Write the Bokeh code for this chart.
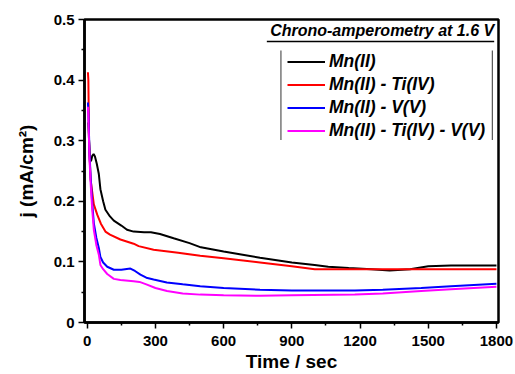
from bokeh.plotting import figure
from bokeh.models import Legend, LegendItem, Label, Range1d, FixedTicker
from bokeh.embed import file_html
from bokeh.resources import INLINE

# ---- data ----
t_mn = [5, 7, 12, 18, 22, 28, 34, 42, 51, 58, 70, 80, 100, 117, 150, 175, 204, 250, 280,
        320, 380, 450, 500, 600, 760, 900, 1000, 1060, 1150, 1250, 1330, 1420, 1500, 1600, 1800]
j_mn = [0.330, 0.310, 0.265, 0.268, 0.275, 0.278, 0.274, 0.262, 0.245, 0.220, 0.200, 0.186,
        0.175, 0.168, 0.160, 0.153, 0.150, 0.149, 0.149, 0.146, 0.139, 0.131, 0.124, 0.117,
        0.107, 0.099, 0.095, 0.092, 0.090, 0.088, 0.086, 0.088, 0.093, 0.094, 0.094]

t_mnti = [3, 5, 8, 12, 15, 22, 29, 44, 60, 80, 100, 146, 204, 226, 292, 400, 497, 600, 760,
          900, 1001, 1100, 1323, 1500, 1800]
j_mnti = [0.413, 0.400, 0.300, 0.260, 0.236, 0.215, 0.195, 0.178, 0.163, 0.150, 0.145, 0.137,
          0.130, 0.126, 0.120, 0.115, 0.110, 0.106, 0.099, 0.093, 0.088, 0.088, 0.088, 0.088, 0.088]

t_mnv = [3, 5, 10, 15, 22, 29, 40, 51, 58, 70, 88, 117, 150, 190, 210, 234, 260, 292, 350, 420,
         497, 600, 760, 900, 1177, 1300, 1469, 1600, 1800]
j_mnv = [0.363, 0.350, 0.280, 0.240, 0.197, 0.164, 0.140, 0.123, 0.108, 0.099, 0.092, 0.087,
         0.087, 0.089, 0.085, 0.079, 0.074, 0.071, 0.066, 0.063, 0.060, 0.057, 0.054, 0.053,
         0.053, 0.054, 0.057, 0.060, 0.064]

t_mntiv = [3, 5, 10, 15, 22, 29, 40, 51, 58, 70, 88, 117, 146, 204, 230, 260, 300, 351, 420,
           497, 600, 760, 900, 1177, 1300, 1469, 1600, 1800]
j_mntiv = [0.356, 0.340, 0.270, 0.230, 0.186, 0.153, 0.128, 0.112, 0.095, 0.088, 0.080, 0.072,
           0.070, 0.068, 0.067, 0.063, 0.057, 0.052, 0.048, 0.046, 0.045, 0.044, 0.045, 0.046,
           0.048, 0.052, 0.055, 0.059]

series_names = ["Mn(II)", "Mn(II) - Ti(IV)", "Mn(II) - V(V)", "Mn(II) - Ti(IV) - V(V)"]
series_colors = ["#000000", "#ff0000", "#0000ff", "#ff00ff"]

x_ticks = [0, 300, 600, 900, 1200, 1500, 1800]
y_ticks = [0.0, 0.1, 0.2, 0.3, 0.4, 0.5]

title_text = "Chrono-amperometry at 1.6 V"

FONT = "Liberation Sans"

p = figure(width=515, height=374, output_backend="svg", toolbar_location=None,
           x_range=Range1d(-12, 1809), y_range=Range1d(0, 0.5),
           min_border_left=84, min_border_right=17, min_border_top=19, min_border_bottom=51)
p.background_fill_color = "white"
p.border_fill_color = "white"
p.grid.visible = False
p.outline_line_color = "black"
p.outline_line_width = 2.5

renderers = []
for xs, ys, c in zip([t_mn, t_mnti, t_mnv, t_mntiv], [j_mn, j_mnti, j_mnv, j_mntiv], series_colors):
    r = p.line(xs, ys, line_color=c, line_width=2)
    renderers.append(r)

for ax in (p.xaxis[0], p.yaxis[0]):
    ax.axis_line_width = 2.5
    ax.axis_line_color = "black"
    ax.major_tick_line_width = 1.5
    ax.minor_tick_line_width = 1.5
    ax.major_tick_out = 6
    ax.major_tick_in = 0
    ax.minor_tick_out = 3
    ax.minor_tick_in = 0
    ax.major_label_text_font = FONT
    ax.major_label_text_font_style = "bold"
    ax.major_label_text_font_size = "15px"
    ax.major_label_text_color = "black"
    ax.axis_label_text_font = FONT
    ax.axis_label_text_font_style = "bold"
    ax.axis_label_text_font_size = "19px"
    ax.axis_label_text_color = "black"

p.xaxis.ticker = FixedTicker(ticks=x_ticks, minor_ticks=[150, 450, 750, 1050, 1350, 1650])
p.yaxis.ticker = FixedTicker(ticks=y_ticks, minor_ticks=[0.05, 0.15, 0.25, 0.35, 0.45])
p.xaxis.axis_label = "Time / sec"
p.yaxis.axis_label = "j (mA/cm²)"
p.xaxis.axis_label_standoff = 2
p.yaxis.axis_label_standoff = 14
p.xaxis.major_label_standoff = 7
p.yaxis.major_label_standoff = 4

# title over the legend, underlined
p.add_layout(Label(x=1790, y=0.467, text=title_text, text_align="right",
                   text_font=FONT, text_font_style="bold italic", text_font_size="16px",
                   text_color="black"))
p.segment(x0=[790], y0=[0.4635], x1=[1790], y1=[0.4635], line_color="black", line_width=1.5)
# legend side rules
p.segment(x0=[852, 1782], y0=[0.449, 0.449], x1=[852, 1782], y1=[0.301, 0.301],
          line_color="#555555", line_width=1.2)

legend = Legend(items=[LegendItem(label=n, renderers=[r]) for n, r in zip(series_names, renderers)],
                location=(200, 178), orientation="vertical")
legend.label_text_font = FONT
legend.label_text_font_style = "bold italic"
legend.label_text_font_size = "17.5px"
legend.label_text_color = "black"
legend.glyph_width = 38
legend.glyph_height = 21
legend.label_standoff = 4
legend.spacing = 2
legend.padding = 3
legend.margin = 0
legend.border_line_alpha = 0
legend.background_fill_alpha = 0
p.add_layout(legend, "center")

open("out.html", "w").write(file_html(p, INLINE))
